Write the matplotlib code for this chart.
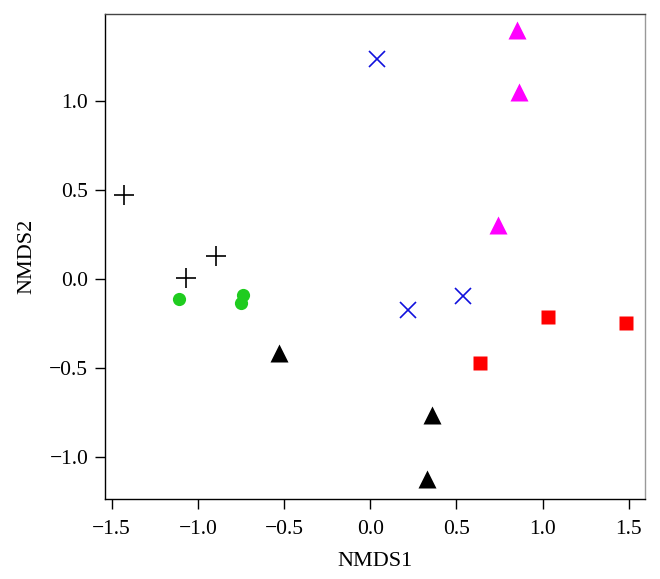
import matplotlib
matplotlib.use("Agg")
import matplotlib.pyplot as plt

# ── Dados (coordenadas NMDS) ──────────────────────────────────
plus_x = [-1.427, -1.066, -0.896]
plus_y = [0.472, 0.004, 0.129]

green_x = [-1.108, -0.737, -0.752]
green_y = [-0.114, -0.090, -0.133]

black_tri_x = [-0.528, 0.356, 0.327]
black_tri_y = [-0.414, -0.764, -1.125]

blue_x = [0.042, 0.218, 0.539]
blue_y = [1.234, -0.174, -0.094]

mag_x = [0.849, 0.862, 0.742]
mag_y = [1.399, 1.049, 0.303]

red_x = [1.032, 1.483, 0.636]
red_y = [-0.212, -0.245, -0.470]

ticks = [-1.5, -1.0, -0.5, 0.0, 0.5, 1.0, 1.5]
yticks = [-1.0, -0.5, 0.0, 0.5, 1.0]
# ─────────────────────────────────────────────────────────────

plt.rcParams["font.family"] = ["Liberation Serif", "DejaVu Serif"]

fig = plt.figure(figsize=(6.6, 5.79), dpi=100)
ax = fig.add_axes([0.159, 0.1387, 0.818, 0.8373])

ax.plot(plus_x, plus_y, ls="none", marker="+", ms=14, mew=1.2, color="black")
ax.plot(green_x, green_y, ls="none", marker="o", ms=9.5, color="#1fcc1f", mec="none")
ax.plot(black_tri_x, black_tri_y, ls="none", marker="^", ms=12.5, color="black", mec="none")
ax.plot(blue_x, blue_y, ls="none", marker="x", ms=11, mew=1.2, color="#1010dd")
ax.plot(mag_x, mag_y, ls="none", marker="^", ms=12.5, color="#ff00ff", mec="none")
ax.plot(red_x, red_y, ls="none", marker="s", ms=10, color="#ff0000", mec="none")

ax.set_xlim(-1.539, 1.593)
ax.set_ylim(-1.234, 1.490)
ax.set_xticks(ticks)
ax.set_yticks(yticks)
ax.set_xticklabels([f"{t:.1f}".replace("-", "\u2212") for t in ticks])
ax.set_yticklabels([f"{t:.1f}".replace("-", "\u2212") for t in yticks])
ax.tick_params(direction="out", length=7, width=1.0, labelsize=15.5, pad=5)
ax.tick_params(axis="x", pad=8)

ax.set_xlabel("NMDS1", fontsize=16, labelpad=10)
ax.set_ylabel("NMDS2", fontsize=16, labelpad=9)

ax.spines["left"].set_color("black")
ax.spines["bottom"].set_color("black")
ax.spines["top"].set_color("#444444")
ax.spines["right"].set_color("#999999")
for s in ax.spines.values():
    s.set_linewidth(1.0)

fig.savefig("out.png", dpi=100)
